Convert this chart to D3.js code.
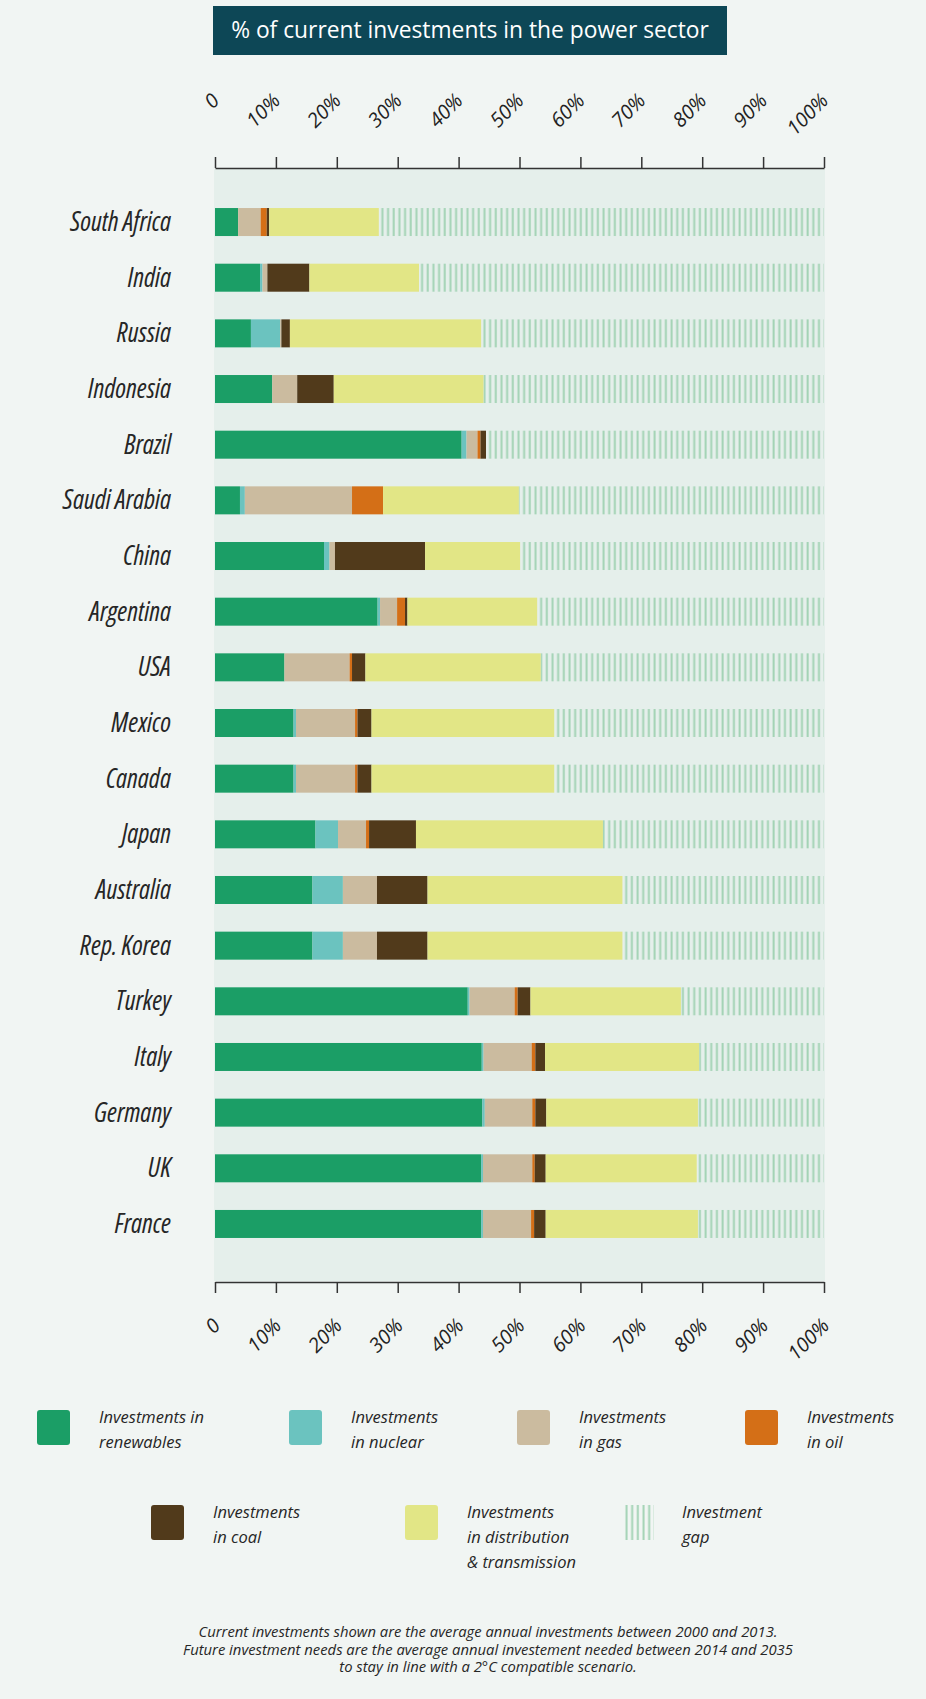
<!DOCTYPE html>
<html>
<head>
<meta charset="utf-8">
<script src="https://cdn.jsdelivr.net/npm/d3@7"></script>
<style>
  body { margin: 0; background: #f1f5f3; }
  svg text { font-family: "Open Sans", sans-serif; }
</style>
</head>
<body>
<div id="chart"></div>
<script>
// values, % of needed investment
let countries = ["South Africa", "India", "Russia", "Indonesia", "Brazil", "Saudi Arabia", "China",
  "Argentina", "USA", "Mexico", "Canada", "Japan", "Australia", "Rep. Korea", "Turkey", "Italy",
  "Germany", "UK", "France"]
let renewables   = [3.8, 7.4, 5.9, 9.4, 40.5, 4.1, 17.9, 26.7, 11.4, 12.9, 12.9, 16.5, 16.0, 16.0, 41.5, 43.8, 43.9, 43.7, 43.7]
let nuclear      = [0, 0.4, 4.8, 0, 0.8, 0.8, 0.9, 0.4, 0, 0.4, 0.4, 3.7, 5.0, 5.0, 0.3, 0.3, 0.4, 0.3, 0.3]
let gas          = [3.7, 0.8, 0.2, 4.1, 1.8, 17.6, 0.9, 2.8, 10.7, 9.7, 9.7, 4.6, 5.6, 5.6, 7.4, 7.9, 7.8, 8.1, 7.9]
let oil          = [1.0, 0, 0, 0, 0.5, 5.1, 0, 1.3, 0.4, 0.4, 0.4, 0.5, 0, 0, 0.5, 0.6, 0.5, 0.4, 0.5]
let coal         = [0.4, 6.9, 1.4, 6.0, 0.9, 0, 14.8, 0.4, 2.2, 2.3, 2.3, 7.7, 8.3, 8.3, 2.1, 1.6, 1.8, 1.8, 1.9]
let distribution = [18.0, 18.0, 31.4, 24.6, 0, 22.3, 15.6, 21.3, 28.8, 30.0, 30.0, 30.7, 32.0, 32.0, 24.7, 25.3, 24.9, 24.8, 25.0]

let tickValues = [0, 10, 20, 30, 40, 50, 60, 70, 80, 90, 100]
let tickLabels = ["0", "10%", "20%", "30%", "40%", "50%", "60%", "70%", "80%", "90%", "100%"]

let seriesKeys = ["renewables", "nuclear", "gas", "oil", "coal", "distribution", "gap"]
let legendLabels = [
  ["Investments in", "renewables"],
  ["Investments", "in nuclear"],
  ["Investments", "in gas"],
  ["Investments", "in oil"],
  ["Investments", "in coal"],
  ["Investments", "in distribution", "& transmission"],
  ["Investment", "gap"]
]
let titleText = "% of current investments in the power sector"
let noteLines = [
  "Current investments shown are the average annual investments between 2000 and 2013.",
  "Future investment needs are the average annual investement needed between 2014 and 2035",
  "to stay in line with a 2°C compatible scenario."
]

class InvestmentChart {

  constructor() {
    this.svgWidth = 926;
    this.svgHeight = 1699;
    this.svg = d3.select("#chart").append("svg")
      .attr("width", this.svgWidth)
      .attr("height", this.svgHeight)
    this.colors = {
      renewables: "#1b9e66",
      nuclear: "#6bc3bf",
      gas: "#cbbb9f",
      oil: "#d46f17",
      coal: "#513a1b",
      distribution: "#e2e686",
      gap: "url(#gapPattern)"
    }
    let defs = this.svg.append("defs")
    let pat = defs.append("pattern")
      .attr("id", "gapPattern")
      .attr("patternUnits", "userSpaceOnUse")
      .attr("width", 5.67)
      .attr("height", 10)
    pat.append("rect")
      .attr("x", 1.5).attr("y", 0)
      .attr("width", 2).attr("height", 10)
      .attr("fill", "#a3d3b5")
  }

  draw() {
    let THIS = this
    let rows = countries.map(function(c, i) {
      let r = {country: c, renewables: renewables[i], nuclear: nuclear[i], gas: gas[i],
        oil: oil[i], coal: coal[i], distribution: distribution[i]}
      r.gap = 100 - (r.renewables + r.nuclear + r.gas + r.oil + r.coal + r.distribution)
      return r
    })
    let stacked = d3.stack().keys(seriesKeys)(rows)

    let xScale = d3.scaleLinear().domain([0, 100]).range([215, 824])
    let yScale = d3.scaleBand()
      .domain(countries)
      .range([194.2, 1251.8])
      .paddingInner(0.497)
      .paddingOuter(0.2485)

    // title
    this.svg.append("rect")
      .attr("x", 213).attr("y", 6)
      .attr("width", 514).attr("height", 49)
      .attr("fill", "#0d4756")
    this.svg.append("text")
      .attr("x", 470).attr("y", 38)
      .attr("text-anchor", "middle")
      .style("font-size", "22.8px")
      .style("fill", "#ffffff")
      .text(titleText)

    // plot background
    this.svg.append("rect")
      .attr("x", 214).attr("y", 169)
      .attr("width", 611).attr("height", 1112)
      .attr("fill", "#e5efeb")

    // bars
    let layers = this.svg.append("g").attr("id", "bars")
      .selectAll("g").data(stacked)
      .enter().append("g")
      .attr("fill", function(d) { return THIS.colors[d.key] })
    layers.selectAll("rect")
      .data(function(d) { return d })
      .enter().append("rect")
      .attr("x", function(d) { return xScale(d[0]) })
      .attr("y", function(d) { return yScale(d.data.country) })
      .attr("width", function(d) { return Math.max(0, xScale(d[1]) - xScale(d[0])) })
      .attr("height", yScale.bandwidth())

    // country labels
    this.svg.append("g").selectAll("text")
      .data(countries).enter().append("text")
      .attr("x", 171)
      .attr("y", function(d) { return yScale(d) + yScale.bandwidth() / 2 + 9 })
      .attr("text-anchor", "end")
      .style("font-size", "26.5px")
      .style("font-style", "italic")
      .style("font-stretch", "87.5%")
      .style("fill", "#262626")
      .text(function(d) { return d })

    // axes
    let topAxis = d3.axisTop(xScale).tickValues(tickValues)
      .tickFormat(function(d, i) { return tickLabels[i] })
      .tickSize(11).tickSizeOuter(0)
    let bottomAxis = d3.axisBottom(xScale).tickValues(tickValues)
      .tickFormat(function(d, i) { return tickLabels[i] })
      .tickSize(11).tickSizeOuter(0)

    let gTop = this.svg.append("g")
      .attr("transform", "translate(0,168)")
      .call(topAxis)
    let gBottom = this.svg.append("g")
      .attr("transform", "translate(0,1282)")
      .call(bottomAxis)

    ;[gTop, gBottom].forEach(function(g, k) {
      g.select(".domain").attr("stroke", "#333").attr("stroke-width", 1.5)
      g.selectAll(".tick line").attr("stroke", "#333").attr("stroke-width", 1.5)
      g.selectAll(".tick text")
        .attr("x", 0).attr("y", 0).attr("dy", 0)
        .attr("text-anchor", "end")
        .attr("transform", k == 0 ? "translate(5,-66) rotate(-45)" : "translate(6,45) rotate(-45)")
        .style("font-family", "'Open Sans', sans-serif")
        .style("font-size", "20px")
        .style("font-style", "italic")
        .style("fill", "#222")
    })

    // legend
    let legendPos = [[37, 1410], [289, 1410], [517, 1410], [745, 1410], [151, 1505], [405, 1505], [624, 1505]]
    let legend = this.svg.append("g").selectAll("g")
      .data(seriesKeys).enter().append("g")
      .attr("transform", function(d, i) { return "translate(" + legendPos[i][0] + "," + legendPos[i][1] + ")" })
    legend.each(function(key, i) {
      let g = d3.select(this)
      if (key == "gap") {
        g.append("rect").attr("width", 30).attr("height", 35).attr("fill", "url(#gapPattern)")
      } else {
        g.append("rect").attr("width", 33).attr("height", 35).attr("rx", 3)
          .attr("fill", THIS.colors[key])
      }
      g.selectAll("text").data(legendLabels[i]).enter().append("text")
        .attr("x", key == "gap" ? 58 : 62)
        .attr("y", function(d, j) { return 13 + j * 25 })
        .style("font-size", "16.5px")
        .style("font-style", "italic")
        .style("fill", "#262626")
        .text(function(d) { return d })
    })

    // footnote
    this.svg.append("g").selectAll("text")
      .data(noteLines).enter().append("text")
      .attr("x", 488)
      .attr("y", function(d, i) { return 1637 + i * 17.5 })
      .attr("text-anchor", "middle")
      .style("font-size", "14.8px")
      .style("font-style", "italic")
      .style("fill", "#262626")
      .text(function(d) { return d })
  }
}

let chart = new InvestmentChart()
chart.draw()
</script>
</body>
</html>
